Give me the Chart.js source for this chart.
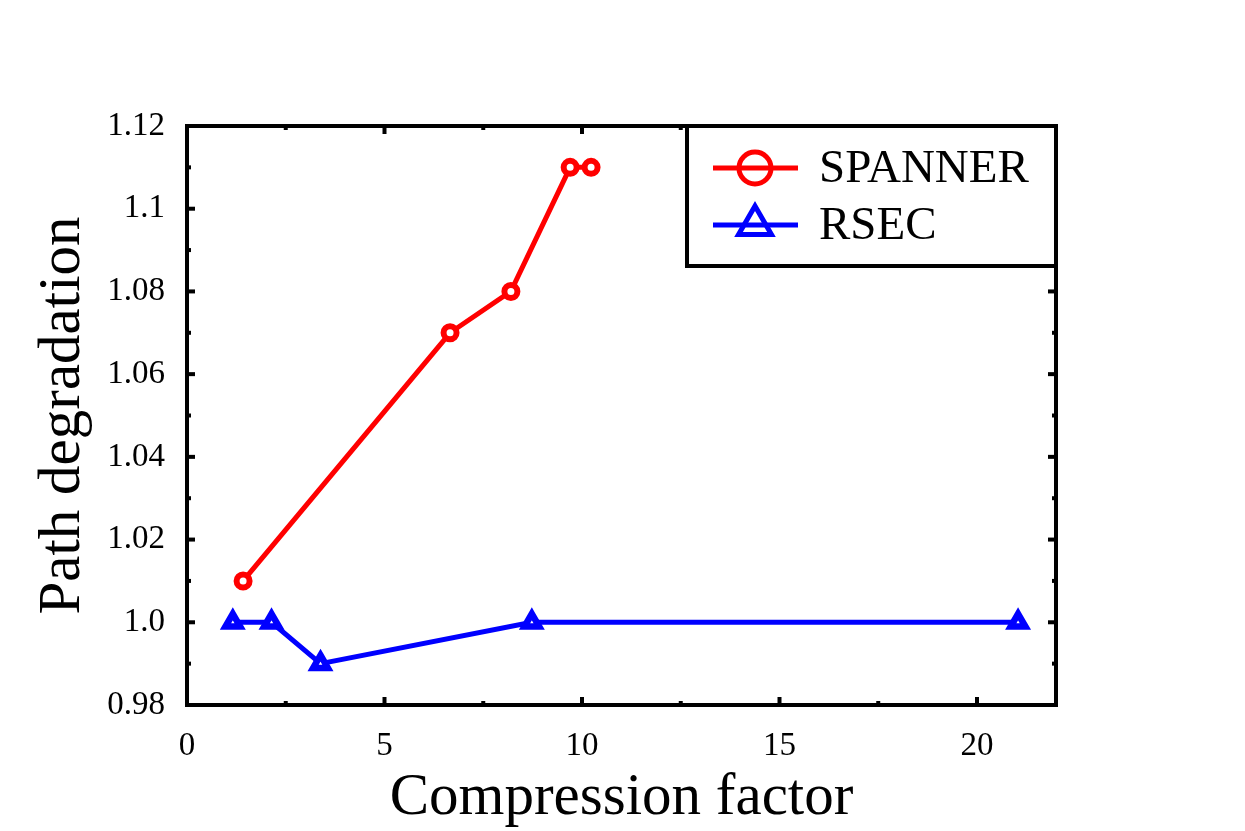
<!DOCTYPE html>
<html>
<head>
<meta charset="utf-8">
<script src="https://cdn.jsdelivr.net/npm/chart.js@4/dist/chart.umd.min.js"></script>
<style>
  html, body { margin: 0; padding: 0; background: #ffffff; }
  #wrap { width: 1245px; height: 831px; }
</style>
</head>
<body>
<div id="wrap"><canvas id="c" width="1245" height="831"></canvas></div>
<script>
// ---- data ----
const spannerX = [1.42, 6.66, 8.20, 9.70, 10.23];
const spannerY = [1.01, 1.07, 1.08, 1.11, 1.11];
const rsecX = [1.16, 2.14, 3.38, 8.73, 21.04];
const rsecY = [1.00, 1.00, 0.99, 1.00, 1.00];
const seriesNames = ['SPANNER', 'RSEC'];

const xTickValues = [0, 5, 10, 15, 20];
const xMinorValues = [2.5, 7.5, 12.5, 17.5];
const yTickValues = [0.98, 1.00, 1.02, 1.04, 1.06, 1.08, 1.10, 1.12];
const yTickLabels = ['0.98', '1.0', '1.02', '1.04', '1.06', '1.08', '1.1', '1.12'];
const yMinorValues = [0.99, 1.01, 1.03, 1.05, 1.07, 1.09, 1.11];
const xTitle = 'Compression factor';
const yTitle = 'Path degradation';

const FONT = "'Liberation Serif', 'Times New Roman', serif";

const toPts = (xs, ys) => xs.map((x, i) => ({ x: x, y: ys[i] }));

const framePlugin = {
  id: 'frameTicksLegend',
  afterDatasetsDraw(chart) {
    const ctx = chart.ctx;
    const a = chart.chartArea;
    const xs = chart.scales.x, ys = chart.scales.y;
    ctx.save();
    ctx.strokeStyle = '#000';
    // ticks (inward, all four sides)
    ctx.lineWidth = 4;
    const tickX = (vals, len) => vals.forEach(v => {
      const p = xs.getPixelForValue(v);
      ctx.beginPath(); ctx.moveTo(p, a.bottom); ctx.lineTo(p, a.bottom - len); ctx.stroke();
      ctx.beginPath(); ctx.moveTo(p, a.top); ctx.lineTo(p, a.top + len); ctx.stroke();
    });
    const tickY = (vals, len) => vals.forEach(v => {
      const p = ys.getPixelForValue(v);
      ctx.beginPath(); ctx.moveTo(a.left, p); ctx.lineTo(a.left + len, p); ctx.stroke();
      ctx.beginPath(); ctx.moveTo(a.right, p); ctx.lineTo(a.right - len, p); ctx.stroke();
    });
    tickX(xTickValues, 8); tickX(xMinorValues, 4);
    tickY(yTickValues, 8); tickY(yMinorValues, 4);
    // frame
    ctx.lineWidth = 4;
    ctx.strokeRect(a.left, a.top, a.right - a.left, a.bottom - a.top);

    // legend box
    const bw = 369, bh = 140;
    const bx = a.right - bw, by = a.top;
    ctx.fillStyle = '#fff';
    ctx.fillRect(bx, by, bw, bh);
    ctx.lineWidth = 4;
    ctx.strokeRect(bx, by, bw, bh);
    const rowsY = [by + 42, by + 99];
    chart.data.datasets.forEach((ds, i) => {
      const yy = rowsY[i];
      ctx.strokeStyle = ds.borderColor;
      ctx.lineWidth = 5;
      ctx.beginPath(); ctx.moveTo(bx + 26, yy); ctx.lineTo(bx + 111, yy); ctx.stroke();
      ctx.fillStyle = 'rgba(255,255,255,0)';
      ctx.strokeStyle = ds.borderColor;
      ctx.lineWidth = 5;
      Chart.helpers.drawPoint(ctx, {
        pointStyle: ds.pointStyle,
        radius: ds.pointStyle === 'triangle' ? 19 : 16,
        borderWidth: 5
      }, bx + 68, yy);
      ctx.fillStyle = '#000';
      ctx.font = '47px ' + FONT;
      ctx.textBaseline = 'middle';
      ctx.textAlign = 'left';
      ctx.fillText(ds.label, bx + 132, yy + 2);
    });
    ctx.restore();
  }
};

const bgPlugin = {
  id: 'bg',
  beforeDraw(chart) {
    const ctx = chart.ctx;
    ctx.save(); ctx.fillStyle = '#fff';
    ctx.fillRect(0, 0, chart.width, chart.height); ctx.restore();
  }
};

new Chart(document.getElementById('c'), {
  type: 'scatter',
  data: {
    datasets: [
      {
        label: seriesNames[0],
        data: toPts(spannerX, spannerY),
        showLine: true,
        borderColor: '#ff0000',
        backgroundColor: '#ffffff',
        borderWidth: 5,
        pointStyle: 'circle',
        pointRadius: 6.5,
        pointBorderWidth: 6,
        pointBackgroundColor: '#ffffff',
        pointBorderColor: '#ff0000',
        tension: 0
      },
      {
        label: seriesNames[1],
        data: toPts(rsecX, rsecY),
        showLine: true,
        borderColor: '#0000ff',
        backgroundColor: '#ffffff',
        borderWidth: 5,
        pointStyle: 'triangle',
        pointRadius: 8.5,
        pointBorderWidth: 6.5,
        pointBackgroundColor: '#ffffff',
        pointBorderColor: '#0000ff',
        tension: 0
      }
    ]
  },
  options: {
    responsive: false,
    animation: false,
    devicePixelRatio: 1,
    layout: { padding: { top: 126, right: 189, left: 0, bottom: 0 } },
    plugins: { legend: { display: false }, tooltip: { enabled: false } },
    scales: {
      x: {
        type: 'linear',
        min: 0, max: 22,
        afterBuildTicks: s => { s.ticks = xTickValues.map(v => ({ value: v })); },
        afterFit: s => { s.height = 126; },
        grid: { display: false, drawTicks: false },
        border: { display: false },
        ticks: {
          color: '#000',
          padding: 22,
          maxRotation: 0,
          font: { family: FONT, size: 33 },
          callback: v => String(v)
        },
        title: {
          display: true,
          text: xTitle,
          color: '#000',
          font: { family: FONT, size: 59, lineHeight: 1.1 },
          padding: { top: 0, bottom: 0 }
        }
      },
      y: {
        type: 'linear',
        min: 0.98, max: 1.12,
        afterBuildTicks: s => { s.ticks = yTickValues.map(v => ({ value: v })); },
        afterFit: s => { s.width = 187; },
        grid: { display: false, drawTicks: false },
        border: { display: false },
        ticks: {
          color: '#000',
          padding: 22,
          font: { family: FONT, size: 33 },
          callback: (v) => {
            const i = yTickValues.findIndex(t => Math.abs(t - v) < 1e-9);
            return i >= 0 ? yTickLabels[i] : '';
          }
        },
        title: {
          display: true,
          text: yTitle,
          color: '#000',
          font: { family: FONT, size: 59 },
          padding: { top: 28, bottom: 0 }
        }
      }
    }
  },
  plugins: [bgPlugin, framePlugin]
});
</script>
</body>
</html>
